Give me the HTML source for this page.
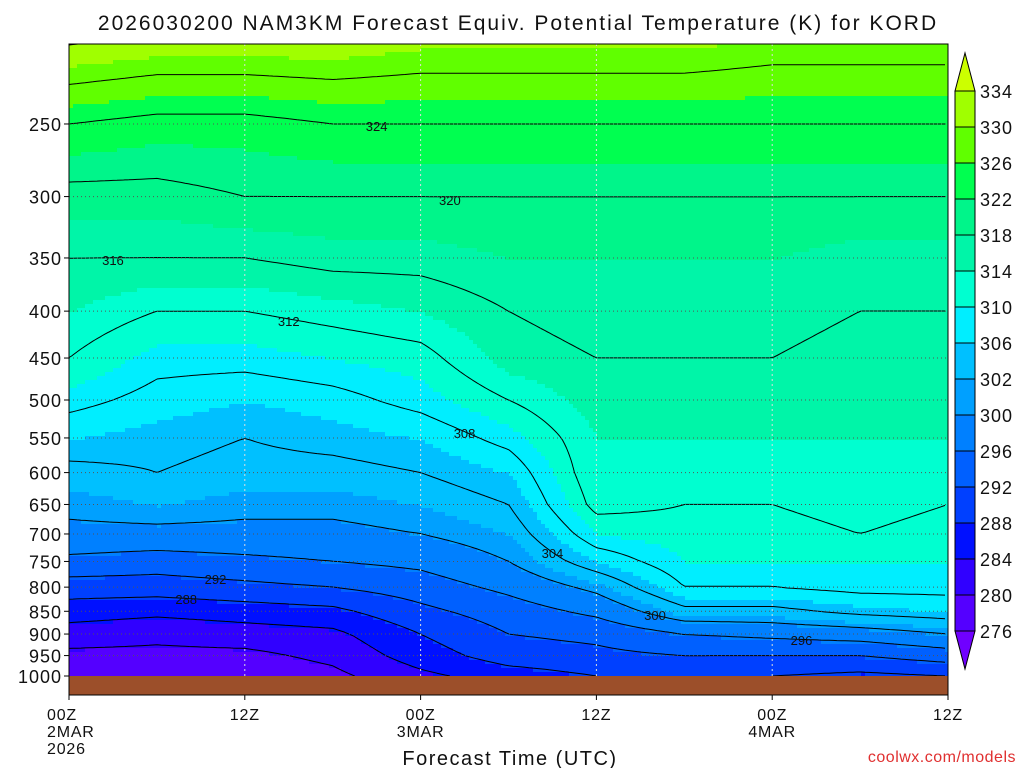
<!DOCTYPE html>
<html><head><meta charset="utf-8">
<style>
body{margin:0;background:#fff;width:1024px;height:768px;overflow:hidden;font-family:"Liberation Sans",sans-serif}
svg text{font-family:"Liberation Sans",sans-serif;fill:#111}
</style></head>
<body>
<svg id="chart" width="1024" height="768" xmlns="http://www.w3.org/2000/svg">
<text x="518" y="30" font-size="21" text-anchor="middle" letter-spacing="2">2026030200 NAM3KM Forecast Equiv. Potential Temperature (K) for KORD</text>
<g id="field"></g>
<g id="contours"></g>
<rect x="69" y="676" width="879" height="19" fill="#9c4f2a"/>
<g id="grid"></g>
<rect x="69" y="44" width="879" height="651" fill="none" stroke="#000" stroke-width="1"/>
<g id="yaxis"></g>
<g id="xaxis"></g>
<text x="510" y="765" font-size="20" text-anchor="middle" letter-spacing="1.5">Forecast Time (UTC)</text>
<text x="1016" y="762" font-size="16" text-anchor="end" style="fill:#e03030" letter-spacing="0.5">coolwx.com/models</text>
<g id="cbar"></g>
</svg>
<script>
const hours=[0,6,12,18,24,30,36,42,48,54,60];
const levels=[1000,950,900,850,800,750,700,650,600,550,500,450,400,350,300,250,200];
const thetaE=[
[277,279,282,286,290,295,299,301,303,306,309,312,314,316,319,324,333],
[277,279,281,285,290,294,299,302,304,305,307,309,312,316,319,323,332],
[277,279,282,286,291,295,299,301,303,304,306,309,312,316,320,323,332],
[279,281,283,287,292,296,299,301,303,305,307,310,313,317,320,324,332],
[283,286,288,291,294,297,300,302,304,306,309,311,314,317,320,324,331],
[286,290,292,294,297,300,302,304,306,309,312,315,316,318,320,324,331],
[288,291,293,297,301,306,310,313,314,314,315,316,317,318,320,324,331],
[289,292,296,303,308,310,311,312,313,314,315,316,317,318,320,324,331],
[288,292,297,303,308,310,311,312,313,314,315,316,317,318,320,324,330],
[287,292,298,305,309,310,312,313,313,314,314,315,316,317,320,324,330],
[288,294,300,306,309,310,311,312,313,314,314,315,316,317,320,324,330]];
const yTicks=[250,300,350,400,450,500,550,600,650,700,750,800,850,900,950,1000];
const xTickHours=[0,12,24,36,48,60];
const xTickLabels=[["00Z","2MAR","2026"],["12Z"],["00Z","3MAR"],["12Z"],["00Z","4MAR"],["12Z"]];
const bounds=[276,280,284,288,292,296,300,302,306,310,314,318,322,326,330,334];
const colors=["#7000ff","#5400ff","#3000ff","#0010ff","#0040ff","#0060ff","#0080ff","#00a0ff","#00c0ff","#00eeff","#00ffd0","#00f5a8","#00f58a","#00ff50","#60ff00","#a0ff00","#ccff00"];
const cLevels=[276,280,284,288,292,296,300,304,308,312,316,320,324,328,332];
const labelHours=[3,15,27,33,40,50,10,8,21,26];
const labelLevels=[316,312,308,304,300,296,292,288,324,320];

const NS="http://www.w3.org/2000/svg";
function mk(t,a,p){const e=document.createElementNS(NS,t);for(const k in a)e.setAttribute(k,a[k]);p.appendChild(e);return e;}
const X0=69,X1=948,YB=676,KY=398.2;
const xs=h=>X0+(X1-X0)*h/60;
const ys=p=>YB-KY*Math.log(1000/p);
const pAt=y=>1000/Math.exp((YB-y)/KY);
function val(h,p){
  let i=Math.min(hours.length-2,Math.max(0,Math.floor(h/6)));let ft=(h-hours[i])/6;ft=Math.max(0,Math.min(1,ft));
  const lp=Math.log(p);let j=0;
  while(j<levels.length-2&&Math.log(levels[j+1])>lp)j++;
  let fp=(Math.log(levels[j])-lp)/(Math.log(levels[j])-Math.log(levels[j+1]));fp=Math.max(0,Math.min(1,fp));
  const a=thetaE[i][j]*(1-fp)+thetaE[i][j+1]*fp, b=thetaE[i+1][j]*(1-fp)+thetaE[i+1][j+1]*fp;
  return a*(1-ft)+b*ft;
}
function col(v){let k=0;while(k<bounds.length&&v>=bounds[k])k++;return colors[k];}
const field=document.getElementById('field');
const S=4;
const G=[];
for(let y=44,r=0;y<=676;y+=S,r++){G.push([]);for(let x=X0;x<=X1;x+=S){const v=val((x-X0)/(X1-X0)*60,pAt(y));G[r].push(v);}}
for(let y=44,r=0;y<676;y+=S,r++){let row=G[r];let start=X0,c=col(row[0]);
  for(let x=X0,q=0;x<=X1+S;x+=S,q++){const cc=q<row.length?col(row[q]):null;
    if(cc!==c){const rc=mk('rect',{x:start,y:y,width:Math.min(x,X1)-start,height:S+0.5,fill:c},field);
      
      
      start=x;c=cc;}}}
const cg=document.getElementById('contours');
cLevels.forEach(L=>{let d="";
  for(let r=0;r<G.length-1;r++)for(let q=0;q<G[0].length-1;q++){
    const x=X0+q*S,y=44+r*S;const a=G[r][q],b=G[r][q+1],c=G[r+1][q+1],e=G[r+1][q];
    const pts=[];
    if((a<L)!=(b<L))pts.push([x+S*(L-a)/(b-a),y]);
    if((b<L)!=(c<L))pts.push([x+S,y+S*(L-b)/(c-b)]);
    if((e<L)!=(c<L))pts.push([x+S*(L-e)/(c-e),y+S]);
    if((a<L)!=(e<L))pts.push([x,y+S*(L-a)/(e-a)]);
    for(let k=0;k+1<pts.length;k+=2)d+=`M${pts[k][0].toFixed(1)} ${pts[k][1].toFixed(1)}L${pts[k+1][0].toFixed(1)} ${pts[k+1][1].toFixed(1)}`;
  }
  const pth=mk('path',{d:d,stroke:'#000','stroke-width':1,fill:'none'},cg);
  
  
});
// contour labels: find pressure where value crosses level at given hour
labelHours.forEach((h,i)=>{const L=labelLevels[i];
  for(let y=670;y>50;y-=1){const v=val(h,pAt(y));if(Math.abs(v-L)<0.15){
    const t=mk('text',{x:xs(h),y:y+5,'font-size':13,'text-anchor':'middle'},cg);t.textContent=L;
    
    break;}}});
const gg=document.getElementById('grid');
yTicks.forEach(p=>{if(p<1000){const l=mk('line',{x1:X0,x2:X1,y1:ys(p),y2:ys(p),stroke:'#555','stroke-width':1,'stroke-dasharray':'1,3'},gg);
  
  }});
xTickHours.slice(1,-1).forEach(h=>{const l=mk('line',{x1:xs(h),x2:xs(h),y1:44,y2:676,stroke:'#ddd','stroke-width':1,'stroke-dasharray':'2,3'},gg);
  
  });
const ya=document.getElementById('yaxis');
yTicks.forEach(p=>{const y=ys(p);
  const t=mk('text',{x:62,y:y+7,'font-size':18,'text-anchor':'end','letter-spacing':1},ya);t.textContent=p;
  
  
  const l=mk('line',{x1:X0-5,x2:X0,y1:y,y2:y,stroke:'#000'},ya);
  
  });
const xa=document.getElementById('xaxis');
xTickHours.forEach((h,i)=>{const x=xs(h);
  const l=mk('line',{x1:x,x2:x,y1:695,y2:700,stroke:'#000'},xa);
  
  
  xTickLabels[i].forEach((s,k)=>{const t=mk('text',{x:i==0?x-22:x,y:720+k*17,'font-size':16,'text-anchor':i==0?'start':'middle','letter-spacing':0.8},xa);t.textContent=s;
    
    });
});
const cb=document.getElementById('cbar');
const CX=955,CW=20,CT=91,STEP=36;
const nb=bounds.length;
for(let k=0;k<nb-1;k++){const y0=CT+(nb-2-k)*STEP;
  const r=mk('rect',{x:CX,y:y0,width:CW,height:STEP,fill:colors[k+1],stroke:'#000','stroke-width':1},cb);
  
  }
const tt=mk('polygon',{points:`${CX},${CT} ${CX+CW},${CT} ${CX+CW/2},${CT-38}`,fill:colors[nb],stroke:'#000'},cb);


const yb=CT+(nb-1)*STEP;
const tb=mk('polygon',{points:`${CX},${yb} ${CX+CW},${yb} ${CX+CW/2},${yb+38}`,fill:colors[0],stroke:'#000'},cb);


bounds.forEach((b,k)=>{const y=CT+(nb-1-k)*STEP;
  const t=mk('text',{x:980,y:y+7,'font-size':18,'letter-spacing':1},cb);t.textContent=b;
  
  });
</script>
</body></html>
